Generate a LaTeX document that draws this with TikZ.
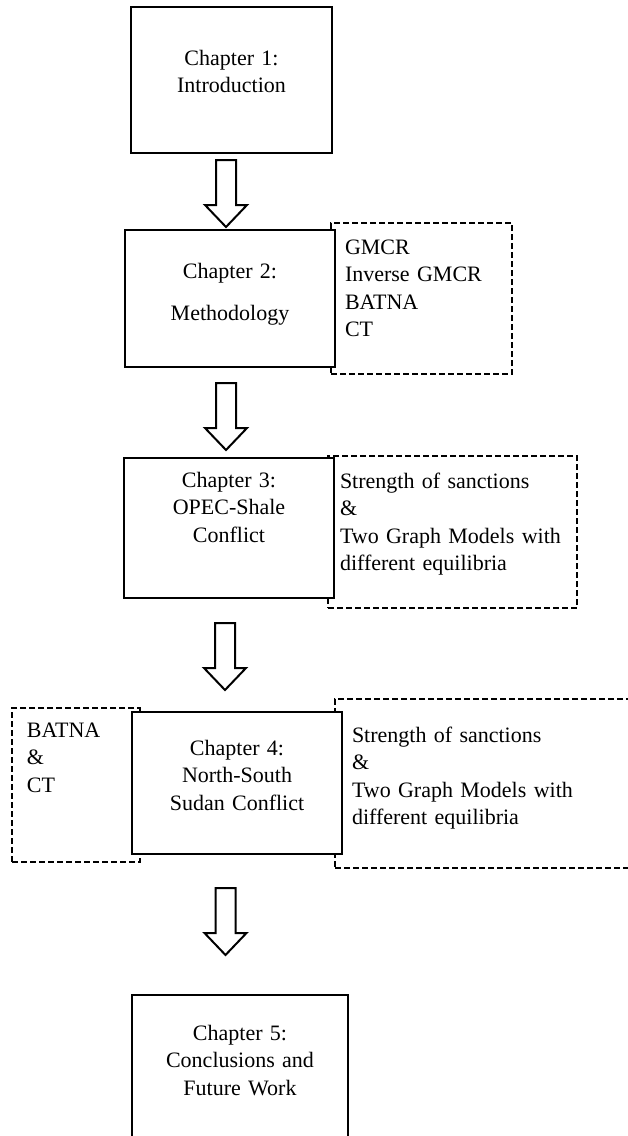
\documentclass[tikz,border=0pt]{standalone}
\usepackage{fontspec}
\setmainfont{Liberation Serif}
\usetikzlibrary{positioning, backgrounds}
\newcommand{\chapfont}{\fontsize{22}{27.5}\selectfont}
\newcommand{\hollowarrow}[1]{%
  \draw[blockarrow] (#1) ++(-10,0) -- ++(0,45) -- ++(-11,0) -- ++(21,22)
    -- ++(21,-22) -- ++(-11,0) -- ++(0,-45) -- cycle;}
\tikzset{chapter/.style={draw, line width=2.2pt, fill=white, inner sep=0pt,
           outer sep=0pt, align=center, font=\chapfont},
         note/.style={draw, line width=2pt, dash pattern=on 6pt off 3pt,
           inner ysep=0pt, outer sep=0pt, align=left, font=\chapfont},
         blockarrow/.style={draw, line width=2pt, fill=white},
         }

\begin{document}
\begin{tikzpicture}[x=1pt, y=-1pt]
    \path[use as bounding box, clip] (0,0) rectangle (628,1136);

    % chapters
    \node[chapter, text width=201pt, minimum height=146pt, text height=58pt, text depth=88pt]
        (c1) at (231.5,80) {Chapter 1:\\Introduction};
    \node[chapter, below=77pt of c1, xshift=-1.5pt, text width=210pt, minimum height=137pt,
        text height=48pt, text depth=89pt] (c2) {Chapter 2:\\[14.5pt]Methodology};
    \node[chapter, below=91pt of c2, xshift=-1pt, text width=210pt, minimum height=140pt,
        text height=29pt, text depth=111pt] (c3) {Chapter 3:\\OPEC-Shale\\Conflict};
    \node[chapter, below=114pt of c3, xshift=8pt, text width=210pt, minimum height=142pt,
        text height=43pt, text depth=99pt] (c4) {Chapter 4:\\North-South\\Sudan Conflict};
    \node[chapter, below=141pt of c4, xshift=3pt, text width=216pt, minimum height=165pt,
        text height=45pt, text depth=120pt] (c5) {Chapter 5:\\Conclusions and\\Future Work};

    % side notes, behind the chapters
    \begin{scope}[on background layer]
    \node[note, anchor=north west, inner xsep=14pt, text width=153pt, minimum height=151pt,
        text height=31pt, text depth=120pt] (n2) at ([shift={(-4,-7)}]c2.north east)
        {GMCR\\Inverse GMCR\\BATNA\\CT};
    \node[note, anchor=north west, inner xsep=12pt, text width=225pt, minimum height=152pt,
        text height=32pt, text depth=120pt] (n3) at ([shift={(-6,-2)}]c3.north east)
        {Strength of sanctions\\\&\\Two Graph Models with\\different equilibria};
    \node[note, anchor=north east, inner xsep=15pt, text width=98pt, minimum height=154pt,
        text height=29pt, text depth=125pt] (n4l) at ([shift={(8,-4)}]c4.north west)
        {BATNA\\\&\\CT};
    \node[note, anchor=north west, inner xsep=17pt, text width=291pt, minimum height=169pt,
        text height=43pt, text depth=126pt] (n4r) at ([shift={(-7,-13)}]c4.north east)
        {Strength of sanctions\\\&\\Two Graph Models with\\different equilibria};
    \end{scope}

    % arrows
    \coordinate (a1) at ([shift={(-5.5,7)}]c1.south);
    \coordinate (a2) at ([shift={(-4,16)}]c2.south);
    \coordinate (a3) at ([shift={(-4,25)}]c3.south);
    \coordinate (a4) at ([shift={(-11.5,34)}]c4.south);
    \hollowarrow{a1}
    \hollowarrow{a2}
    \hollowarrow{a3}
    \hollowarrow{a4}
\end{tikzpicture}
\end{document}
